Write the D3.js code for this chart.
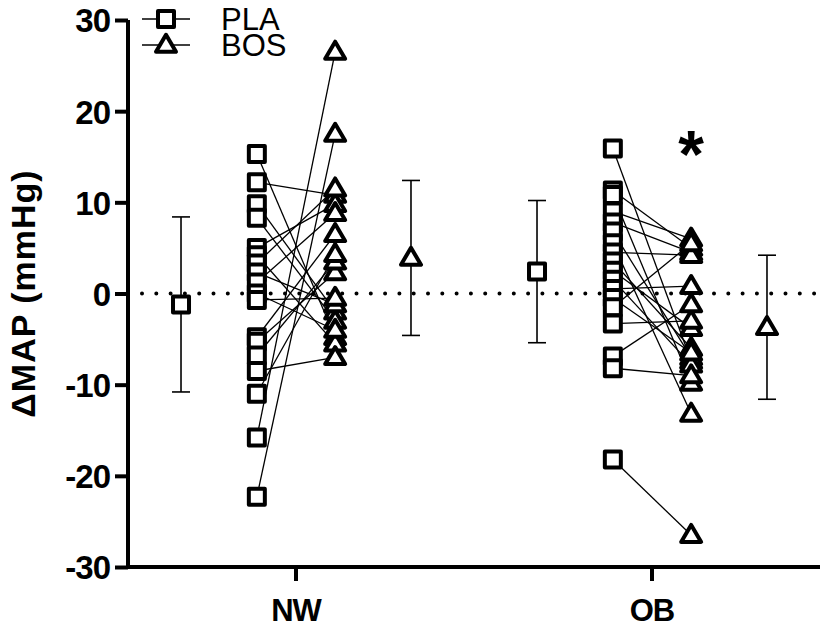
<!DOCTYPE html>
<html><head><meta charset="utf-8">
<script src="https://cdn.jsdelivr.net/npm/d3@7"></script>
<style>body{margin:0;background:#fff}svg{display:block}</style>
</head><body>
<svg id="c" width="820" height="636"></svg>
<script>
const groups = ["NW", "OB"];
const conditions = ["PLA", "BOS"];
const yTicks = [-30, -20, -10, 0, 10, 20, 30];
// paired individual values (PLA -> BOS)
const nwPLA = [15.3, 12.2, 9.8, 8.3, 5.0, 4.2, 3.3, 2.3, 1.2, 0.0, -0.7, -4.8, -5.3, -6.8, -8.5, -11.0, -15.8, -22.3];
const nwBOS = [-4.8, 10.8, -2.0, -3.0, 9.8, -5.5, 11.5, -1.2, 8.8, -4.0, -0.5, 6.5, 2.3, 3.5, -7.0, 4.3, 26.5, 17.5];
const obPLA = [15.9, 11.3, 10.8, 9.0, 7.8, 6.8, 5.5, 4.5, 3.5, 2.5, 1.5, 0.5, -0.5, -1.5, -3.3, -6.9, -8.2, -18.2];
const obBOS = [-7.4, 5.0, -9.8, 6.0, 4.5, -7.0, -13.2, 4.2, -6.0, -3.8, -7.8, 0.8, -6.5, 5.5, -3.0, -1.2, -9.0, -26.5];
// group means and SD
const meanPLA = [-1.2, 2.4];
const sdPLA = [9.6, 7.8];
const meanBOS = [3.9, -3.7];
const sdBOS = [8.5, 7.9];

const svg = d3.select("#c");
const x = d3.scaleLinear().domain([0, 1]).range([296, 652]);
const y = d3.scaleLinear().domain([-30, 30]).range([567, 20]);
const font = "'Liberation Sans', Arial, sans-serif";

const OFF_PTS = 0.11, OFF_MEAN = 0.323;
const sqSize = 16, triW = 20, triH = 17;
const sqPath = `M${-sqSize/2},${-sqSize/2}h${sqSize}v${sqSize}h${-sqSize}Z`;
const triPath = `M0,${-triH*0.6}L${triW/2},${triH*0.4}L${-triW/2},${triH*0.4}Z`;
const SW = 4;

// zero dotted line
svg.append("line").attr("x1", 142).attr("x2", 820).attr("y1", y(0)).attr("y2", y(0))
  .attr("stroke", "#000").attr("stroke-width", 4).attr("stroke-linecap", "round")
  .attr("stroke-dasharray", "0,14.3");

const data = [[nwPLA, nwBOS], [obPLA, obBOS]];
data.forEach((d, gi) => {
  const [p, b] = d;
  const xp = x(gi - OFF_PTS), xb = x(gi + OFF_PTS);
  p.forEach((v, i) => {
    svg.append("line").attr("x1", xp).attr("y1", y(v)).attr("x2", xb).attr("y2", y(b[i]))
      .attr("stroke", "#000").attr("stroke-width", 1.3);
  });
  p.forEach(v => svg.append("path").attr("d", sqPath)
    .attr("transform", `translate(${xp},${y(v)})`)
    .attr("fill", "#fff").attr("stroke", "#000").attr("stroke-width", SW).attr("stroke-linejoin", "round"));
  b.forEach(v => svg.append("path").attr("d", triPath)
    .attr("transform", `translate(${xb},${y(v)})`)
    .attr("fill", "#fff").attr("stroke", "#000").attr("stroke-width", SW).attr("stroke-linejoin", "round"));
});

// means with SD error bars
function meanBar(cx, m, s, path) {
  const cap = 9;
  svg.append("line").attr("x1", cx).attr("x2", cx).attr("y1", y(m + s)).attr("y2", y(m - s))
    .attr("stroke", "#000").attr("stroke-width", 1.6);
  [m + s, m - s].forEach(v => svg.append("line").attr("x1", cx - cap).attr("x2", cx + cap)
    .attr("y1", y(v)).attr("y2", y(v)).attr("stroke", "#000").attr("stroke-width", 1.6));
  svg.append("path").attr("d", path).attr("transform", `translate(${cx},${y(m)})`)
    .attr("fill", "#fff").attr("stroke", "#000").attr("stroke-width", SW).attr("stroke-linejoin", "round");
}
groups.forEach((g, gi) => {
  meanBar(x(gi - OFF_MEAN), meanPLA[gi], sdPLA[gi], sqPath);
  meanBar(x(gi + OFF_MEAN), meanBOS[gi], sdBOS[gi], triPath);
});

// axes
const yAxis = d3.axisLeft(y).tickValues(yTicks).tickFormat(d => String(d)).tickSize(13).tickPadding(5);
const gy = svg.append("g").attr("transform", "translate(128,0)").call(yAxis);
gy.select(".domain").attr("stroke-width", SW).attr("d", `M0,${y(30)}V${y(-30)}`);
gy.selectAll(".tick line").attr("stroke-width", SW);
gy.selectAll(".tick text").attr("font-family", font).attr("font-weight", "bold")
  .attr("font-size", 33).attr("fill", "#000").attr("dy", "0.36em")
  .attr("letter-spacing", -1);

const xPos = d3.scaleOrdinal().domain(groups).range([x(0), x(1)]);
const gx = svg.append("g").attr("transform", `translate(0,${y(-30)})`);
gx.append("line").attr("x1", 126).attr("x2", 820).attr("y1", 0).attr("y2", 0)
  .attr("stroke", "#000").attr("stroke-width", SW);
groups.forEach(g => {
  gx.append("line").attr("x1", xPos(g)).attr("x2", xPos(g)).attr("y1", 0).attr("y2", 14)
    .attr("stroke", "#000").attr("stroke-width", SW);
  gx.append("text").attr("x", xPos(g)).attr("y", 54).attr("text-anchor", "middle")
    .attr("font-family", font).attr("font-weight", "bold").attr("font-size", 31)
    .attr("letter-spacing", -1).text(g);
});

// y label
svg.append("text").attr("transform", `translate(35,${y(0)}) rotate(-90)`)
  .attr("text-anchor", "middle").attr("font-family", font).attr("font-weight", "bold")
  .attr("font-size", 34).attr("letter-spacing", 1).text("ΔMAP (mmHg)");

// legend
const legPaths = [sqPath, triPath];
conditions.forEach((c, i) => {
  const ly = 19 + i * 26;
  svg.append("line").attr("x1", 142).attr("x2", 190).attr("y1", ly).attr("y2", ly)
    .attr("stroke", "#000").attr("stroke-width", 1.3);
  svg.append("path").attr("d", legPaths[i]).attr("transform", `translate(166,${ly})`)
    .attr("fill", "#fff").attr("stroke", "#000").attr("stroke-width", SW).attr("stroke-linejoin", "round");
  svg.append("text").attr("x", 221).attr("y", ly + 11).attr("font-family", font)
    .attr("font-size", 31).text(c);
});

// significance asterisk
svg.append("text").attr("x", x(1 + OFF_PTS)).attr("y", 177).attr("text-anchor", "middle")
  .attr("font-family", font).attr("font-weight", "bold").attr("font-size", 66).text("*");
</script>
</body></html>
